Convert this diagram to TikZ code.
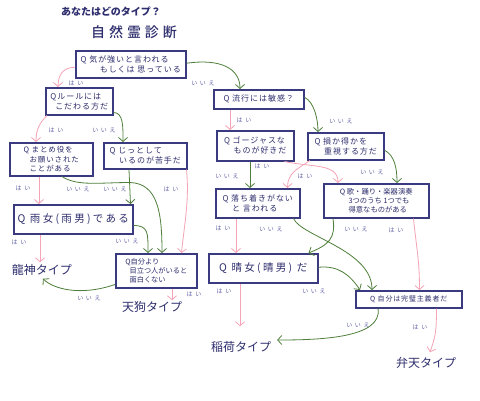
\documentclass[tikz,border=0pt]{standalone}
\usepackage{fontspec}
\setmainfont{Noto Sans CJK JP}
\newfontfamily\jpwide{Noto Sans CJK JP}[LetterSpace=45]
\newfontfamily\jpmid{Noto Sans CJK JP}[LetterSpace=12]
\newfontfamily\jpbig{Noto Sans CJK JP}[LetterSpace=22]
\newfontfamily\jptitle{Noto Sans CJK JP Medium}[LetterSpace=28]
\usetikzlibrary{arrows.meta,calc}
\definecolor{navy}{HTML}{2E2E6E}
\definecolor{boxc}{HTML}{3A3A80}
\definecolor{labc}{HTML}{6464A8}
\definecolor{pinkc}{HTML}{F5A3B6}
\definecolor{greenc}{HTML}{4F7F3A}
\begin{document}
\begin{tikzpicture}[x=1pt,y=-1pt,
  box/.style={draw=boxc, line width=1.5pt, fill=white, anchor=north west, align=left,
    inner sep=2pt, text=navy, font=\jpmid\fontsize{8}{10}\selectfont},
  res/.style={text=navy, inner sep=1pt, font=\fontsize{12}{14}\selectfont},
  lab/.style={text=labc, inner sep=0pt, font=\jpwide\fontsize{6}{7}\selectfont},
  pk/.style={draw=pinkc, line width=0.8pt, -{Straight Barb[length=4pt,width=9pt]}},
  gr/.style={draw=greenc, line width=0.8pt, -{Straight Barb[length=4pt,width=9pt]}}]
\useasboundingbox (0,0) rectangle (480,400);
\fill[white] (0,0) rectangle (480,400);

% titles
\node[text=navy, font=\bfseries\fontsize{10}{12}\selectfont] (t1) at (111,12) {あなたはどのタイプ？};
\node[text=navy, font=\jptitle\fontsize{14}{16}\selectfont] (t2) at (134,32) {自然霊診断};

% boxes
\node[box, minimum width=110pt, minimum height=27pt] (b1) at (75,50) {Q\ 気が強いと言われる\\\hspace{2.4em}もしくは 思っている};
\node[box, minimum width=67pt, minimum height=27pt] (b2) at (45,87) {Qルールには\\\hspace{0.6em}こだわる方だ};
\node[box, minimum width=83pt, minimum height=33pt, font=\jpmid\fontsize{7.5}{9.5}\selectfont] (b3) at (9,142) {Q\ まとめ役を\\\hspace{0.8em}お願いされた\\\hspace{0.8em}ことがある};
\node[box, minimum width=83pt, minimum height=26pt] (b4) at (103,142) {Q\ じっとして\\\hspace{1.2em}いるのが苦手だ};
\node[box, minimum width=119pt, minimum height=29pt, font=\jpbig\fontsize{10.5}{12}\selectfont] (b5) at (13,204) {Q\ 雨女(雨男)である};
\node[box, minimum width=81pt, minimum height=34pt, font=\fontsize{7.2}{9.2}\selectfont] (b6) at (115,253) {Q自分より\\\hspace{0.6em}目立つ人がいると\\\hspace{0.6em}面白くない};
\node[box, minimum width=90pt, minimum height=19pt] (b7) at (213,89) {Q\ 流行には敏感？};
\node[box, minimum width=77pt, minimum height=30pt] (b8) at (216,130) {Q\ ゴージャスな\\\hspace{1.2em}ものが好きだ};
\node[box, minimum width=76pt, minimum height=27pt] (b9) at (307,132) {Q\ 損か得かを\\\hspace{1.2em}重視する方だ};
\node[box, minimum width=84pt, minimum height=29pt] (b10) at (215,188) {Q\ 落ち着きがない\\\hspace{1.2em}と 言われる};
\node[box, minimum width=105pt, minimum height=34pt, font=\fontsize{7.3}{9.3}\selectfont] (b11) at (323,183) {Q\ 歌・踊り・楽器演奏\\\hspace{1.2em}3つのうち 1つでも\\\hspace{1.2em}得意なものがある};
\node[box, minimum width=109pt, minimum height=29pt, font=\jpbig\fontsize{10.5}{12}\selectfont] (b12) at (208,253) {Q\ 晴女(晴男) だ};
\node[box, minimum width=106pt, minimum height=17pt, font=\jpmid\fontsize{7}{8}\selectfont] (b13) at (355,290) {Q\ 自分は完璧主義者だ};

% results
\node[res] (r1) at (42,270) {龍神タイプ};
\node[res] (r2) at (152,307) {天狗タイプ};
\node[res] (r3) at (241,347) {稲荷タイプ};
\node[res] (r4) at (426,363) {弁天タイプ};

% connectors
\draw[pk] ($(b1.west)+(0,3)$) .. controls +(-12,0) and +(0,-12) .. ($(b2.north west)+(13,0)$);
\draw[gr] ($(b1.east)+(0,-1)$) .. controls +(35,-5) and +(0,-20) .. ($(b7.north west)+(27,0)$);
\draw[pk] ($(b2.south west)+(2,0)$) .. controls +(-8,8) and +(0,-12) .. ($(b3.north west)+(27,0)$);
\draw[gr] ($(b2.south east)+(0,-3)$) .. controls +(10,0) and +(0,-15) .. ($(b4.north west)+(20,0)$);
\draw[pk] ($(b3.south west)+(30,0)$) -- ($(b5.north west)+(26,0)$);
\draw[gr] ($(b3.south west)+(53,0)$) .. controls +(15,10) and +(-30,0) .. ($(b3.south west)+(121,6)$) .. controls +(28,1) and +(0,-40) .. ($(b6.north west)+(47,0)$);
\draw[gr] ($(b4.south west)+(26,0)$) -- ($(b5.north east)+(-3,0)$);
\draw[pk] ($(b4.south east)+(-1,0)$) .. controls +(3,30) and +(3,-30) .. ($(b6.north east)+(-16,0)$);
\draw[pk] ($(b5.south west)+(27,0)$) -- ($(r1.north)+(-2,-1)$);
\draw[gr] ($(b5.south east)+(0,-9)$) .. controls +(15,0) and +(0,-20) .. ($(b6.north west)+(33,0)$);
\draw[gr] ($(b6.south west)+(0,-4)$) .. controls +(-35,12) and +(10,10) .. ($(r1.south)+(1,2)$);
\draw[pk] ($(b6.south west)+(57,0)$) -- ($(r2.north)+(20,0)$);
\draw[pk] ($(b7.south west)+(17,0)$) -- ($(b8.north west)+(14,0)$);
\draw[gr] ($(b7.east)+(0,-2)$) .. controls +(10,5) and +(0,-12) .. ($(b9.north west)+(11,0)$);
\draw[gr] ($(b8.south west)+(34,0)$) -- ($(b10.north west)+(35,0)$);
\draw[pk] ($(b8.south east)+(-10,0)$) .. controls +(27,6) and +(0,-20) .. ($(b11.north west)+(15,0)$);
\draw[pk] ($(b9.south west)+(3,0)$) .. controls +(-12,8) and +(0,-15) .. ($(b10.north east)+(-13,0)$);
\draw[gr] ($(b9.east)+(0,4)$) .. controls +(10,5) and +(0,-15) .. ($(b11.north west)+(74,0)$);
\draw[pk] ($(b10.south west)+(21,0)$) -- ($(b12.north west)+(28,0)$);
\draw[gr] ($(b10.south east)+(-7,0)$) .. controls +(8,18) and +(0,-40) .. ($(b13.north west)+(17,0)$);
\draw[gr] ($(b11.south west)+(10,0)$) .. controls +(3,20) and +(20,-8) .. ($(b12.north east)+(-10,0)$);
\draw[pk] ($(b11.south east)+(-16,0)$) .. controls +(3,30) and +(0,-30) .. ($(b13.north east)+(-43,0)$);
\draw[gr] ($(b12.east)+(0,-1)$) .. controls +(20,-2) and +(-10,-15) .. ($(b13.north west)+(5,0)$);
\draw[pk] ($(b12.south west)+(32,0)$) -- ($(r3.north)+(-1,-14)$);
\draw[gr] ($(b13.south west)+(23,0)$) .. controls +(5,30) and +(40,0) .. ($(r3.east)+(5,-7)$);
\draw[pk] ($(b13.south east)+(-26,0)$) .. controls +(0,25) and +(5,-15) .. ($(r4.north)+(4,-4)$);

% labels
\node[lab] (l1) at (76,83) {はい};
\node[lab] (l2) at (203,83) {いいえ};
\node[lab] (l3) at (56,130) {はい};
\node[lab] (l4) at (104,130) {いいえ};
\node[lab] (l5) at (23,188) {はい};
\node[lab] (l6) at (78,189) {いいえ};
\node[lab] (l7) at (115,189) {いいえ};
\node[lab] (l8) at (171,189) {はい};
\node[lab] (l9) at (19,242) {はい};
\node[lab] (l10) at (127,241) {いいえ};
\node[lab] (l11) at (89,298) {いいえ};
\node[lab] (l12) at (194,294) {はい};
\node[lab] (l13) at (244,120) {はい};
\node[lab] (l14) at (341,121) {いいえ};
\node[lab] (l15) at (227,176) {いいえ};
\node[lab] (l16) at (262,166) {はい};
\node[lab] (l17) at (305,176) {はい};
\node[lab] (l18) at (372,172) {いいえ};
\node[lab] (l19) at (223,228) {はい};
\node[lab] (l20) at (271,229) {いいえ};
\node[lab] (l21) at (356,229) {いいえ};
\node[lab] (l22) at (396,230) {はい};
\node[lab] (l23) at (314,291) {いいえ};
\node[lab] (l24) at (224,291) {はい};
\node[lab] (l25) at (358,325) {いいえ};
\node[lab] (l26) at (420,327) {はい};
\end{tikzpicture}
\end{document}
